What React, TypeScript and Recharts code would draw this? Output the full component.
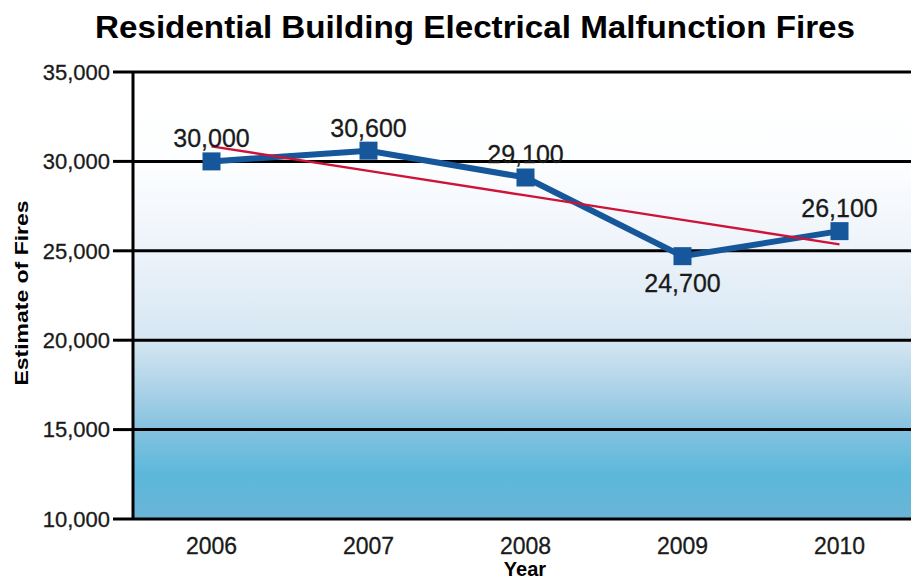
import React from 'react'
import { ComposedChart, Line, XAxis, YAxis, CartesianGrid, LabelList } from 'recharts'

const years = [2006, 2007, 2008, 2009, 2010]
const fires = [30000, 30600, 29100, 24700, 26100]
const trend = [30840, 29470, 28100, 26730, 25360]
const yTicks = [10000, 15000, 20000, 25000, 30000, 35000]
const yearEdges = [2005.5, 2006.5, 2007.5, 2008.5, 2009.5, 2010.5]

const data = years.map((year, i) => ({ year, fires: fires[i], trend: trend[i] }))

const fmt = (v: number) => v.toLocaleString('en-US')

const font = 'Liberation Sans, Arial, sans-serif'

const SquareDot = (props: any) => {
  const { cx, cy } = props
  if (cx == null || cy == null) return null
  return <rect x={cx - 9} y={cy - 9} width={18} height={18} fill="#15579a" />
}

// label goes under the point when it is a local low, above otherwise
const PointLabel = (props: any) => {
  const { x, y, value, index } = props
  const prev = fires[index - 1]
  const next = fires[index + 1]
  const below = prev !== undefined && next !== undefined && value < prev && value < next
  return (
    <text
      x={x}
      y={below ? y + 27 : y - 23}
      textAnchor="middle"
      dominantBaseline="central"
      fontFamily={font}
      fontSize={25}
      fill="#1a1a1a"
      stroke="#1a1a1a"
      strokeWidth={0.3}
    >
      {fmt(value)}
    </text>
  )
}

const tickStyle = { fill: '#1a1a1a', fontSize: 22, fontFamily: font, stroke: '#1a1a1a', strokeWidth: 0.3 }

const App = () => {
  return (
    <div style={{ position: 'fixed', left: 0, top: 0, width: 911, height: 582, overflow: 'hidden', background: '#fff' }}>
      <ComposedChart
        width={930}
        height={582}
        data={data}
        margin={{ top: 72, right: 12, left: 0, bottom: 0 }}
      >
        <defs>
          <linearGradient id="bgFill" x1="0" y1="0" x2="0" y2="1">
            <stop offset="0%" stopColor="#ffffff" />
            <stop offset="20%" stopColor="#fdfeff" />
            <stop offset="40%" stopColor="#edf3fa" />
            <stop offset="60%" stopColor="#d5e6f2" />
            <stop offset="70%" stopColor="#b0d4e9" />
            <stop offset="80%" stopColor="#84c2df" />
            <stop offset="90%" stopColor="#5cb8da" />
            <stop offset="100%" stopColor="#6ab5d6" />
          </linearGradient>
        </defs>
        <CartesianGrid
          vertical={false}
          stroke="#000"
          strokeWidth={3}
          fill="url(#bgFill)"
          fillOpacity={1}
        />
        <XAxis
          xAxisId="edges"
          type="number"
          dataKey="year"
          domain={[2005.5, 2010.5]}
          allowDataOverflow
          ticks={yearEdges}
          tick={false}
          tickSize={10}
          height={0}
          axisLine={{ stroke: '#000', strokeWidth: 3 }}
          tickLine={{ stroke: '#000', strokeWidth: 3 }}
        />
        <XAxis
          type="number"
          dataKey="year"
          domain={[2005.5, 2010.5]}
          allowDataOverflow
          ticks={years}
          height={63}
          axisLine={false}
          tickLine={false}
          tickSize={0}
          tickMargin={19}
          tick={{ ...tickStyle, fontSize: 23 }}
        />
        <YAxis
          width={133}
          domain={[10000, 35000]}
          ticks={yTicks}
          tickFormatter={fmt}
          tickSize={20}
          tickMargin={3}
          axisLine={{ stroke: '#000', strokeWidth: 3 }}
          tickLine={{ stroke: '#000', strokeWidth: 3 }}
          tick={tickStyle}
        />
        <Line
          dataKey="fires"
          stroke="#15579a"
          strokeWidth={6}
          dot={<SquareDot />}
          activeDot={false}
          isAnimationActive={false}
        >
          <LabelList dataKey="fires" content={<PointLabel />} />
        </Line>
        <Line
          dataKey="trend"
          stroke="#cf1238"
          strokeWidth={2.5}
          dot={false}
          activeDot={false}
          isAnimationActive={false}
        />
      </ComposedChart>
      <svg width={911} height={582} style={{ position: 'absolute', left: 0, top: 0, pointerEvents: 'none' }}>
        <text
          x={475}
          y={38}
          textAnchor="middle"
          fontFamily={font}
          fontWeight="bold"
          fontSize={31}
          textLength={760}
          lengthAdjust="spacingAndGlyphs"
          fill="#000"
        >
          Residential Building Electrical Malfunction Fires
        </text>
        <text
          transform="translate(28, 293) rotate(-90)"
          textAnchor="middle"
          fontFamily={font}
          fontWeight="bold"
          fontSize={18}
          textLength={185}
          lengthAdjust="spacingAndGlyphs"
          fill="#000"
        >
          Estimate of Fires
        </text>
        <text
          x={525}
          y={576}
          textAnchor="middle"
          fontFamily={font}
          fontWeight="bold"
          fontSize={20}
          fill="#000"
        >
          Year
        </text>
      </svg>
    </div>
  )
}

export default App
